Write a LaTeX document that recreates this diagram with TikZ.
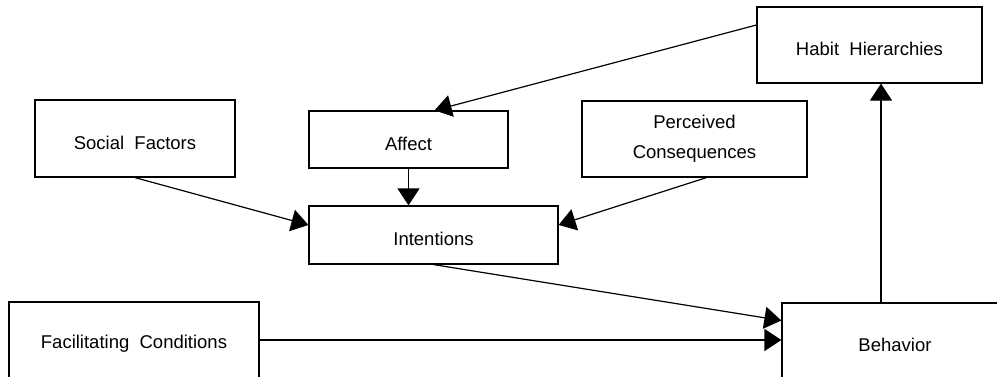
\documentclass[tikz,border=0pt]{standalone}
\usepackage{fontspec}
\setmainfont{Liberation Sans}
\usetikzlibrary{arrows.meta,calc}
\newcommand{\lowtext}[1]{\raisebox{-4pt}[\height][\depth]{#1}}
\begin{document}
\begin{tikzpicture}[x=1pt,y=-1pt,
  box/.style={draw,line width=1.2pt,rectangle,inner sep=0pt,align=center,
    font=\fontsize{18.5}{30}\selectfont},
  conn/.style={line width=1.2pt,-{Triangle[length=17pt,width=22pt]}}]
\useasboundingbox (0,0) rectangle (997,376);
\clip (0,0) rectangle (997,376);
\node[box,minimum width=200pt,minimum height=77pt] (social) at (135,138.5) {\lowtext{Social\ \ Factors}};
\node[box,minimum width=199pt,minimum height=57pt] (affect) at (408.5,139.5) {\lowtext{Affect}};
\node[box,minimum width=225pt,minimum height=76pt] (perc) at (694.5,139) {Perceived\\Consequences};
\node[box,minimum width=225pt,minimum height=76pt] (habit) at (869.5,45) {\lowtext{Habit\ \ Hierarchies}};
\node[box,minimum width=249pt,minimum height=58pt] (int) at (433.5,235) {\lowtext{Intentions}};
\node[box,minimum width=250pt,minimum height=76pt] (fac) at (134,340) {\lowtext{Facilitating\ \ Conditions}};
\node[box,minimum width=226pt,minimum height=75pt] (beh) at (895,340.5) {\lowtext{Behavior}};
\draw[conn] ([yshift=20pt]habit.west) -- ([xshift=26pt]affect.north);
\draw[conn] (affect.south) -- (affect.south |- int.north);
\draw[conn] (social.south) -- ([yshift=10pt]int.west);
\draw[conn] ([xshift=12pt]perc.south) -- ([yshift=10pt]int.east);
\draw[conn] (int.south) -- ([yshift=20pt]beh.west);
\draw[conn] (fac.east) -- (fac.east -| beh.west);
\draw[conn] ([xshift=-14pt]beh.north) -- ([xshift=-14pt]beh.north |- habit.south);
\end{tikzpicture}
\end{document}
